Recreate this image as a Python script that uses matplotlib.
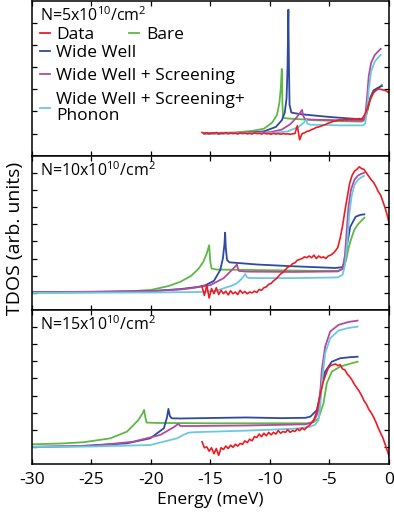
import numpy as np
import matplotlib
matplotlib.use("Agg")
import matplotlib.pyplot as plt
from matplotlib.lines import Line2D

plt.rcParams['font.family'] = ['Open Sans', 'DejaVu Sans']
plt.rcParams['mathtext.fontset'] = 'custom'
plt.rcParams['mathtext.rm'] = 'Open Sans'
plt.rcParams['mathtext.default'] = 'regular'
plt.rcParams['axes.unicode_minus'] = False

C_DATA = '#ed1c24'
C_BARE = '#5db847'
C_WW = '#2e4a9e'
C_SCR = '#b24a9f'
C_PH = '#6cc8e0'

# ---------------- data ----------------
E_data = np.round(np.arange(-15.7, 0.31, 0.2), 2)

red1 = [1.05, 1.00, 1.04, 0.99, 1.03, 1.01, 1.05, 0.98, 1.02, 1.00, 1.04, 0.99, 1.03, 1.00, 1.02, 0.98,
        1.03, 1.00, 1.02, 0.99, 1.01, 0.98, 1.03, 1.00, 1.01, 0.98, 1.02, 0.99, 1.00, 0.97, 1.01, 0.98,
        1.00, 0.97, 1.00, 0.98, 0.99, 0.97, 0.99, 1.00, 1.35, 0.72, 1.00, 1.03, 1.10, 1.12, 1.18, 1.22,
        1.28, 1.30, 1.34, 1.38, 1.42, 1.47, 1.50, 1.55, 1.57, 1.60, 1.62, 1.60, 1.65, 1.62, 1.66, 1.63,
        1.67, 1.64, 1.68, 1.65, 1.80, 2.00, 2.35, 2.65, 2.85, 2.95, 3.02, 3.00, 2.97, 2.95, 2.88, 2.80, 2.75]

red2 = [1.36, 0.85, 1.45, 0.70, 1.25, 0.95, 1.30, 0.90, 1.15, 0.95, 1.10, 0.88, 1.12, 0.95, 1.05, 0.90,
        1.15, 0.98, 1.08, 0.95, 1.05, 1.00, 1.10, 1.02, 1.20, 1.15, 1.30, 1.35, 1.50, 1.55, 1.70, 1.80,
        1.95, 2.10, 2.20, 2.35, 2.50, 2.55, 2.70, 2.75, 2.90, 2.95, 3.00, 3.10, 3.05, 3.15, 3.05, 3.20,
        3.00, 3.15, 3.05, 3.10, 3.00, 3.15, 3.20, 3.30, 3.45, 3.65, 4.20, 4.90, 5.80, 6.60, 7.40, 7.85,
        8.10, 8.20, 8.35, 8.25, 8.20, 8.00, 7.80, 7.60, 7.45, 7.20, 6.90, 6.70, 6.30, 5.90, 5.40, 4.80, 4.30]

red3 = [1.30, 0.95, 1.00, 0.75, 0.95, 0.60, 0.90, 0.50, 0.95, 0.85, 1.05, 0.90, 1.10, 0.98, 1.15, 1.05,
        1.20, 1.15, 1.35, 1.25, 1.45, 1.35, 1.60, 1.55, 1.75, 1.60, 1.80, 1.65, 1.85, 1.70, 1.85, 1.75,
        1.95, 1.80, 1.90, 1.85, 2.00, 1.85, 1.95, 1.90, 2.05, 1.95, 2.10, 2.00, 2.15, 2.25, 2.40, 2.60,
        3.00, 3.60, 4.30, 4.85, 5.25, 5.60, 5.75, 5.80, 5.85, 5.75, 5.80, 5.55, 5.50, 5.25, 5.10, 4.90,
        4.65, 4.45, 4.25, 4.00, 3.70, 3.50, 3.20, 3.00, 2.75, 2.45, 2.10, 1.80, 1.50, 1.10, 0.70, 0.20, -0.30]

# panel 1 (N=5)
E1_bare = [-15.5, -13.0, -11.5, -10.5, -9.8, -9.4, -9.2, -9.08, -9.0, -8.95, -8.9, -8.5, -6.0, -4.0, -2.3, -2.05, -1.85, -1.6, -1.3, -1.0, -0.6]
y1_bare = [1.02, 1.05, 1.12, 1.22, 1.5, 1.85, 2.4, 3.1, 3.92, 2.4, 1.72, 1.68, 1.6, 1.56, 1.54, 1.62, 1.95, 2.5, 2.85, 3.0, 3.2]
E1_ww = [-15.5, -12.0, -10.5, -9.5, -9.0, -8.75, -8.6, -8.52, -8.45, -8.4, -8.35, -8.2, -7.5, -5.0, -3.0, -2.2, -2.0, -1.8, -1.55, -1.3, -1.0, -0.6]
y1_ww = [1.0, 1.03, 1.1, 1.3, 1.6, 1.95, 2.6, 4.0, 6.6, 4.0, 2.3, 1.95, 1.88, 1.75, 1.67, 1.64, 1.72, 2.1, 2.65, 2.95, 3.05, 3.15]
E1_scr = [-15.5, -10.0, -9.0, -8.3, -7.8, -7.45, -7.3, -7.2, -7.05, -6.5, -4.0, -2.2, -2.0, -1.85, -1.7, -1.5, -1.2, -0.9, -0.7]
y1_scr = [1.0, 1.06, 1.18, 1.42, 1.7, 1.95, 2.07, 1.8, 1.65, 1.63, 1.6, 1.58, 1.75, 2.6, 3.6, 4.2, 4.55, 4.72, 4.83]
E1_ph = [-15.5, -10.0, -8.5, -7.6, -7.15, -6.95, -6.85, -6.6, -4.0, -2.2, -2.0, -1.85, -1.7, -1.5, -1.2, -0.9, -0.7]
y1_ph = [1.0, 1.02, 1.1, 1.3, 1.5, 1.62, 1.45, 1.4, 1.37, 1.37, 1.45, 2.0, 3.0, 3.8, 4.25, 4.45, 4.55]

# panel 2 (N=10)
E2_bare = [-30, -25, -22, -20, -18.5, -17.5, -16.6, -16.0, -15.6, -15.3, -15.1, -15.0, -14.9, -14.5, -10, -6, -4.3, -3.9, -3.6, -3.4, -3.2, -2.9, -2.6, -2.3, -2.07]
y2_bare = [1.0, 1.03, 1.08, 1.17, 1.4, 1.65, 2.0, 2.4, 2.8, 3.3, 3.78, 2.8, 2.42, 2.36, 2.32, 2.28, 2.28, 2.4, 2.9, 3.6, 4.1, 4.7, 5.0, 5.22, 5.38]
E2_ww = [-30, -25, -20, -17.5, -16.0, -15.4, -14.7, -14.17, -13.95, -13.82, -13.76, -13.7, -13.6, -13.4, -11, -8, -4.5, -3.9, -3.7, -3.55, -3.25, -2.8, -2.4, -2.07]
y2_ww = [1.05, 1.06, 1.1, 1.22, 1.35, 1.45, 1.7, 2.33, 3.0, 3.8, 4.51, 3.6, 2.92, 2.78, 2.65, 2.55, 2.45, 2.5, 2.9, 3.69, 4.86, 5.44, 5.55, 5.58]
E2_scr = [-30, -25, -20, -17.5, -16.7, -15.0, -13.9, -13.2, -12.9, -12.77, -12.7, -12.6, -12.0, -8, -4.3, -3.9, -3.7, -3.55, -3.4, -3.2, -2.9, -2.6, -2.3, -2.1]
y2_scr = [1.05, 1.06, 1.1, 1.2, 1.26, 1.45, 1.85, 2.33, 2.55, 2.66, 2.45, 2.28, 2.24, 2.22, 2.25, 2.4, 3.2, 4.6, 6.0, 7.0, 7.6, 7.85, 7.95, 8.0]
E2_ph = [-30, -20, -16, -14.5, -13.9, -13.2, -12.77, -12.4, -12.2, -12.07, -11.95, -11.8, -11.0, -8, -4.3, -3.9, -3.7, -3.5, -3.35, -3.15, -2.9, -2.6, -2.3, -2.1]
y2_ph = [1.0, 1.02, 1.05, 1.12, 1.26, 1.42, 1.56, 1.8, 1.98, 2.1, 1.92, 1.87, 1.86, 1.86, 1.9, 2.05, 2.6, 4.0, 5.5, 6.6, 7.3, 7.6, 7.75, 7.82]

# panel 3 (N=15)
E3_bare = [-30, -27.5, -25.66, -23.4, -22.0, -21.04, -20.7, -20.56, -20.45, -20.35, -19.5, -15, -10, -6.8, -6.33, -5.92, -5.5, -5.22, -4.8, -4.1, -3.38, -2.64]
y3_bare = [1.15, 1.2, 1.27, 1.5, 1.89, 2.57, 2.95, 3.16, 2.7, 2.42, 2.4, 2.38, 2.38, 2.38, 2.45, 2.67, 3.55, 4.72, 5.4, 5.69, 5.84, 5.98]
E3_ww = [-30, -26, -22, -20.05, -18.9, -18.65, -18.52, -18.4, -18.24, -17.5, -12, -9, -7.0, -6.6, -6.05, -5.8, -5.64, -5.36, -4.8, -4.1, -3.3, -2.64]
y3_ww = [1.0, 1.05, 1.21, 1.5, 2.09, 2.7, 3.22, 2.8, 2.67, 2.66, 2.72, 2.68, 2.7, 2.77, 3.16, 4.0, 4.72, 5.4, 5.98, 6.18, 6.24, 6.27]
E3_scr = [-30, -25, -21.5, -19.2, -18.1, -17.7, -17.5, -16.5, -12, -7, -6.4, -6.1, -5.92, -5.75, -5.64, -5.36, -4.94, -4.24, -3.4, -2.64]
y3_scr = [1.0, 1.05, 1.3, 1.7, 2.14, 2.34, 2.22, 2.22, 2.25, 2.32, 2.45, 2.8, 3.16, 4.4, 5.5, 6.86, 7.74, 8.13, 8.3, 8.38]
E3_ph = [-30, -25, -20.05, -17.8, -17.2, -16.84, -16.3, -12, -8, -7.45, -6.6, -6.2, -5.92, -5.75, -5.6, -5.36, -4.94, -4.24, -3.4, -2.64]
y3_ph = [1.0, 1.02, 1.11, 1.5, 1.72, 1.83, 1.86, 1.95, 2.06, 2.1, 2.18, 2.3, 2.57, 3.6, 5.0, 6.47, 7.35, 7.8, 7.95, 8.03]

panel_labels = [r'N=5x10$^{10}$/cm$^{2}$', r'N=10x10$^{10}$/cm$^{2}$', r'N=15x10$^{10}$/cm$^{2}$']
series_names = ['Data', 'Bare', 'Wide Well', 'Wide Well + Screening', 'Wide Well + Screening+\nPhonon']
x_ticks = [-30, -25, -20, -15, -10, -5, 0]

panels = [
    (red1, (E1_bare, y1_bare), (E1_ww, y1_ww), (E1_scr, y1_scr), (E1_ph, y1_ph), 7),
    (red2, (E2_bare, y2_bare), (E2_ww, y2_ww), (E2_scr, y2_scr), (E2_ph, y2_ph), 9),
    (red3, (E3_bare, y3_bare), (E3_ww, y3_ww), (E3_scr, y3_scr), (E3_ph, y3_ph), 9),
]

# ---------------- figure ----------------
W, H = 394, 517
fig = plt.figure(figsize=(W / 100, H / 100), dpi=100)
left = 31.7 / W
width = (389 - 31.7) / W
edges = [0.8, 155.7, 310, 464]
axes = []
for i in range(3):
    b = 1 - edges[i + 1] / H
    h = (edges[i + 1] - edges[i]) / H
    axes.append(fig.add_axes([left, b, width, h]))

FS = 12.5
FS_N = 11.5
for i, (ax, p) in enumerate(zip(axes, panels)):
    red, bare, ww, scr, ph, ytop = p
    ax.plot(bare[0], bare[1], color=C_BARE, lw=1.3)
    ax.plot(ww[0], ww[1], color=C_WW, lw=1.3)
    ax.plot(scr[0], scr[1], color=C_SCR, lw=1.3)
    ax.plot(ph[0], ph[1], color=C_PH, lw=1.3)
    ax.plot(E_data, red, color=C_DATA, lw=1.2)
    ax.set_xlim(-30, 0)
    ax.set_ylim(0, ytop)
    ax.set_yticks(range(1, ytop))
    ax.set_xticks(x_ticks)
    ax.tick_params(direction='in', length=3.5, width=0.9, top=True, right=True,
                   labelleft=False, labelsize=FS, pad=6)
    if i < 2:
        ax.tick_params(labelbottom=False)
    for s in ax.spines.values():
        s.set_linewidth(1.1)
    ax.text(0.023, 1 - 15 / 155, panel_labels[i], transform=ax.transAxes,
            fontsize=FS_N, va='center', ha='left')

axes[2].set_xlabel('Energy (meV)', fontsize=FS, labelpad=3)
fig.text(15.5 / W, 1 - 238 / H, 'TDOS (arb. units)', rotation=90, fontsize=14,
         ha='center', va='center')

# legends in top panel
ax1 = axes[0]
h_data = Line2D([], [], color=C_DATA, lw=1.3)
h_bare = Line2D([], [], color=C_BARE, lw=1.3)
h_ww = Line2D([], [], color=C_WW, lw=1.3)
h_scr = Line2D([], [], color=C_SCR, lw=1.3)
h_ph = Line2D([], [], color=C_PH, lw=1.3)
leg1 = ax1.legend([h_data, h_bare], series_names[:2], ncol=2, loc='center left',
                  bbox_to_anchor=((40 - 31.7) / 357.3, 1 - 34 / 155), frameon=False,
                  fontsize=FS, handlelength=0.55, handletextpad=0.4, columnspacing=2.0,
                  borderpad=0, borderaxespad=0)
ax1.add_artist(leg1)
leg2 = ax1.legend([h_ww, h_scr, h_ph], series_names[2:], loc='upper left',
                  bbox_to_anchor=((40 - 31.7) / 357.3, 1 - 44 / 155), frameon=False,
                  fontsize=FS, handlelength=0.55, handletextpad=0.4, labelspacing=0.42,
                  borderpad=0, borderaxespad=0)
for t in leg2.get_texts():
    t.set_linespacing(1.05)

fig.savefig('out.png', dpi=100)
